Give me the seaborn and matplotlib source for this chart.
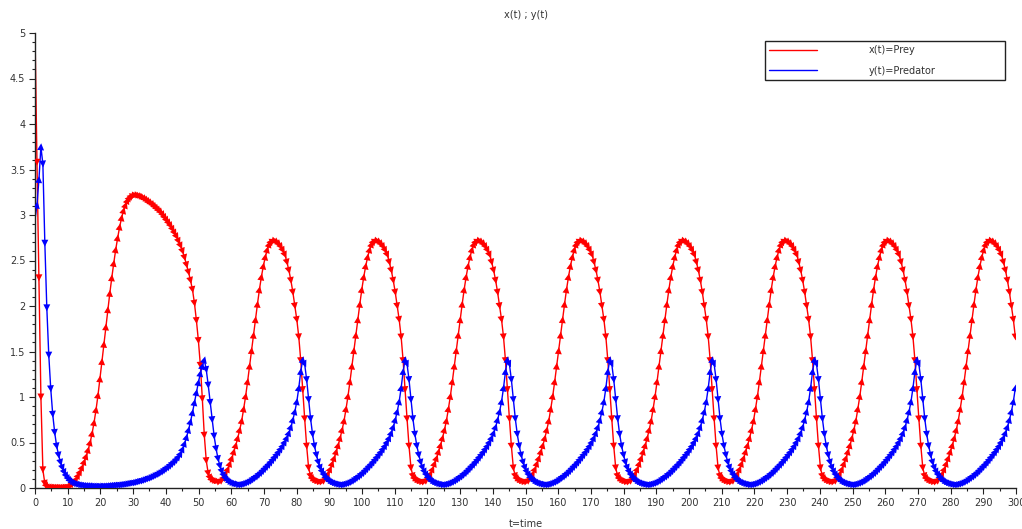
import numpy as np
import pandas as pd
import matplotlib
matplotlib.use("Agg")
import matplotlib.pyplot as plt
from matplotlib.markers import MarkerStyle
from matplotlib.transforms import Affine2D
from matplotlib.lines import Line2D
from matplotlib.ticker import MultipleLocator
import seaborn as sns

# ---------------- data ----------------
T_STEP = 0.602          # sampling step of the time grid
SERIES = ["x(t)=Prey", "y(t)=Predator"]
COLORS = ["#ff0000", "#0000ff"]

PREY = [
    # transient, t = 0 .. 56
    5.00, 3.58, 2.31, 1.00, 0.20, 0.05, 0.02, 0.012, 0.010, 0.009,
    0.008, 0.008, 0.008, 0.008, 0.009, 0.010, 0.012, 0.015, 0.03, 0.05,
    0.07, 0.10, 0.14, 0.18, 0.23, 0.29, 0.35, 0.42, 0.50, 0.60,
    0.72, 0.86, 1.02, 1.20, 1.39, 1.58, 1.77, 1.96, 2.14, 2.31,
    2.47, 2.62, 2.75, 2.87, 2.97, 3.05, 3.11, 3.16, 3.19, 3.21,
    3.22, 3.22, 3.215, 3.21, 3.20, 3.19, 3.175, 3.16, 3.145, 3.13,
    3.11, 3.09, 3.07, 3.05, 3.03, 3.00, 2.97, 2.94, 2.91, 2.88,
    2.84, 2.80, 2.76, 2.71, 2.66, 2.60, 2.53, 2.45, 2.37, 2.28,
    2.18, 2.03, 1.84, 1.62, 1.35, 0.98, 0.58, 0.30, 0.16, 0.11,
    0.09, 0.08, 0.075, 0.07,
    # cycle (peak ~73)
    0.075, 0.09, 0.12, 0.16, 0.21, 0.27, 0.33, 0.40, 0.47, 0.55, 0.64, 0.74, 0.87, 1.01, 1.17,
    1.34, 1.51, 1.68, 1.85, 2.02, 2.18, 2.32, 2.44, 2.54, 2.62, 2.68, 2.71, 2.72, 2.715, 2.70,
    2.68, 2.65, 2.61, 2.56, 2.48, 2.39, 2.28, 2.15, 2.00, 1.85, 1.66, 1.40, 1.08, 0.76, 0.46,
    # cycle (peak ~104)
    0.22, 0.13, 0.10, 0.085, 0.075, 0.07, 0.07,
    0.075, 0.09, 0.12, 0.16, 0.21, 0.27, 0.33, 0.40, 0.47, 0.55, 0.64, 0.74, 0.87, 1.01, 1.17,
    1.34, 1.51, 1.68, 1.85, 2.02, 2.18, 2.32, 2.44, 2.54, 2.62, 2.68, 2.71, 2.72, 2.715, 2.70,
    2.68, 2.65, 2.61, 2.56, 2.48, 2.39, 2.28, 2.15, 2.00, 1.85, 1.66, 1.40, 1.08, 0.76, 0.46,
    # cycle (peak ~135)
    0.22, 0.13, 0.10, 0.085, 0.075, 0.07, 0.07,
    0.075, 0.09, 0.12, 0.16, 0.21, 0.27, 0.33, 0.40, 0.47, 0.55, 0.64, 0.74, 0.87, 1.01, 1.17,
    1.34, 1.51, 1.68, 1.85, 2.02, 2.18, 2.32, 2.44, 2.54, 2.62, 2.68, 2.71, 2.72, 2.715, 2.70,
    2.68, 2.65, 2.61, 2.56, 2.48, 2.39, 2.28, 2.15, 2.00, 1.85, 1.66, 1.40, 1.08, 0.76, 0.46,
    # cycle (peak ~167)
    0.22, 0.13, 0.10, 0.085, 0.075, 0.07, 0.07,
    0.075, 0.09, 0.12, 0.16, 0.21, 0.27, 0.33, 0.40, 0.47, 0.55, 0.64, 0.74, 0.87, 1.01, 1.17,
    1.34, 1.51, 1.68, 1.85, 2.02, 2.18, 2.32, 2.44, 2.54, 2.62, 2.68, 2.71, 2.72, 2.715, 2.70,
    2.68, 2.65, 2.61, 2.56, 2.48, 2.39, 2.28, 2.15, 2.00, 1.85, 1.66, 1.40, 1.08, 0.76, 0.46,
    # cycle (peak ~198)
    0.22, 0.13, 0.10, 0.085, 0.075, 0.07, 0.07,
    0.075, 0.09, 0.12, 0.16, 0.21, 0.27, 0.33, 0.40, 0.47, 0.55, 0.64, 0.74, 0.87, 1.01, 1.17,
    1.34, 1.51, 1.68, 1.85, 2.02, 2.18, 2.32, 2.44, 2.54, 2.62, 2.68, 2.71, 2.72, 2.715, 2.70,
    2.68, 2.65, 2.61, 2.56, 2.48, 2.39, 2.28, 2.15, 2.00, 1.85, 1.66, 1.40, 1.08, 0.76, 0.46,
    # cycle (peak ~229)
    0.22, 0.13, 0.10, 0.085, 0.075, 0.07, 0.07,
    0.075, 0.09, 0.12, 0.16, 0.21, 0.27, 0.33, 0.40, 0.47, 0.55, 0.64, 0.74, 0.87, 1.01, 1.17,
    1.34, 1.51, 1.68, 1.85, 2.02, 2.18, 2.32, 2.44, 2.54, 2.62, 2.68, 2.71, 2.72, 2.715, 2.70,
    2.68, 2.65, 2.61, 2.56, 2.48, 2.39, 2.28, 2.15, 2.00, 1.85, 1.66, 1.40, 1.08, 0.76, 0.46,
    # cycle (peak ~261)
    0.22, 0.13, 0.10, 0.085, 0.075, 0.07, 0.07,
    0.075, 0.09, 0.12, 0.16, 0.21, 0.27, 0.33, 0.40, 0.47, 0.55, 0.64, 0.74, 0.87, 1.01, 1.17,
    1.34, 1.51, 1.68, 1.85, 2.02, 2.18, 2.32, 2.44, 2.54, 2.62, 2.68, 2.71, 2.72, 2.715, 2.70,
    2.68, 2.65, 2.61, 2.56, 2.48, 2.39, 2.28, 2.15, 2.00, 1.85, 1.66, 1.40, 1.08, 0.76, 0.46,
    # last cycle (peak ~292), up to t = 300
    0.22, 0.13, 0.10, 0.085, 0.075, 0.07, 0.07,
    0.075, 0.09, 0.12, 0.16, 0.21, 0.27, 0.33, 0.40, 0.47, 0.55, 0.64, 0.74, 0.87, 1.01, 1.17,
    1.34, 1.51, 1.68, 1.85, 2.02, 2.18, 2.32, 2.44, 2.54, 2.62, 2.68, 2.71, 2.72, 2.715, 2.70,
    2.68, 2.65, 2.61, 2.56, 2.48, 2.39, 2.28, 2.15, 2.00, 1.85, 1.66,
]

PREDATOR = [
    # transient, t = 0 .. 61
    2.95, 3.11, 3.39, 3.75, 3.56, 2.69, 1.98, 1.46, 1.09, 0.81,
    0.61, 0.46, 0.36, 0.28, 0.22, 0.17, 0.13, 0.10, 0.08, 0.065,
    0.054, 0.046, 0.040, 0.035, 0.031, 0.028, 0.026, 0.024, 0.023, 0.022,
    0.021, 0.021, 0.021, 0.021, 0.022, 0.022, 0.023, 0.024, 0.025, 0.027,
    0.029, 0.031, 0.033, 0.035, 0.038, 0.041, 0.044, 0.047, 0.051, 0.055,
    0.059, 0.064, 0.069, 0.075, 0.081, 0.088, 0.095, 0.103, 0.111, 0.12,
    0.13, 0.14, 0.151, 0.163, 0.176, 0.19, 0.205, 0.221, 0.238, 0.256,
    0.275, 0.296, 0.318, 0.345, 0.38, 0.43, 0.49, 0.56, 0.64, 0.73,
    0.83, 0.94, 1.05, 1.16, 1.26, 1.34, 1.41, 1.30, 1.13, 0.94,
    0.75, 0.57, 0.43, 0.32, 0.24, 0.18, 0.135, 0.105, 0.083, 0.067,
    0.056, 0.048, 0.042,
    # cycle (peak ~82)
    0.037, 0.037, 0.04, 0.046, 0.054, 0.064, 0.076, 0.09, 0.105, 0.12, 0.137, 0.155,
    0.175, 0.196, 0.218, 0.241, 0.265, 0.29, 0.316, 0.343, 0.371, 0.401, 0.433, 0.468,
    0.508, 0.553, 0.607, 0.672, 0.75, 0.84, 0.95, 1.10, 1.28, 1.41, 1.36, 1.19,
    # cycle (peak ~113)
    0.97, 0.76, 0.59, 0.46, 0.36, 0.28, 0.22, 0.175, 0.14, 0.112, 0.09, 0.073, 0.061, 0.052, 0.045, 0.04,
    0.037, 0.037, 0.04, 0.046, 0.054, 0.064, 0.076, 0.09, 0.105, 0.12, 0.137, 0.155,
    0.175, 0.196, 0.218, 0.241, 0.265, 0.29, 0.316, 0.343, 0.371, 0.401, 0.433, 0.468,
    0.508, 0.553, 0.607, 0.672, 0.75, 0.84, 0.95, 1.10, 1.28, 1.41, 1.36, 1.19,
    # cycle (peak ~145)
    0.97, 0.76, 0.59, 0.46, 0.36, 0.28, 0.22, 0.175, 0.14, 0.112, 0.09, 0.073, 0.061, 0.052, 0.045, 0.04,
    0.037, 0.037, 0.04, 0.046, 0.054, 0.064, 0.076, 0.09, 0.105, 0.12, 0.137, 0.155,
    0.175, 0.196, 0.218, 0.241, 0.265, 0.29, 0.316, 0.343, 0.371, 0.401, 0.433, 0.468,
    0.508, 0.553, 0.607, 0.672, 0.75, 0.84, 0.95, 1.10, 1.28, 1.41, 1.36, 1.19,
    # cycle (peak ~176)
    0.97, 0.76, 0.59, 0.46, 0.36, 0.28, 0.22, 0.175, 0.14, 0.112, 0.09, 0.073, 0.061, 0.052, 0.045, 0.04,
    0.037, 0.037, 0.04, 0.046, 0.054, 0.064, 0.076, 0.09, 0.105, 0.12, 0.137, 0.155,
    0.175, 0.196, 0.218, 0.241, 0.265, 0.29, 0.316, 0.343, 0.371, 0.401, 0.433, 0.468,
    0.508, 0.553, 0.607, 0.672, 0.75, 0.84, 0.95, 1.10, 1.28, 1.41, 1.36, 1.19,
    # cycle (peak ~207)
    0.97, 0.76, 0.59, 0.46, 0.36, 0.28, 0.22, 0.175, 0.14, 0.112, 0.09, 0.073, 0.061, 0.052, 0.045, 0.04,
    0.037, 0.037, 0.04, 0.046, 0.054, 0.064, 0.076, 0.09, 0.105, 0.12, 0.137, 0.155,
    0.175, 0.196, 0.218, 0.241, 0.265, 0.29, 0.316, 0.343, 0.371, 0.401, 0.433, 0.468,
    0.508, 0.553, 0.607, 0.672, 0.75, 0.84, 0.95, 1.10, 1.28, 1.41, 1.36, 1.19,
    # cycle (peak ~239)
    0.97, 0.76, 0.59, 0.46, 0.36, 0.28, 0.22, 0.175, 0.14, 0.112, 0.09, 0.073, 0.061, 0.052, 0.045, 0.04,
    0.037, 0.037, 0.04, 0.046, 0.054, 0.064, 0.076, 0.09, 0.105, 0.12, 0.137, 0.155,
    0.175, 0.196, 0.218, 0.241, 0.265, 0.29, 0.316, 0.343, 0.371, 0.401, 0.433, 0.468,
    0.508, 0.553, 0.607, 0.672, 0.75, 0.84, 0.95, 1.10, 1.28, 1.41, 1.36, 1.19,
    # cycle (peak ~270)
    0.97, 0.76, 0.59, 0.46, 0.36, 0.28, 0.22, 0.175, 0.14, 0.112, 0.09, 0.073, 0.061, 0.052, 0.045, 0.04,
    0.037, 0.037, 0.04, 0.046, 0.054, 0.064, 0.076, 0.09, 0.105, 0.12, 0.137, 0.155,
    0.175, 0.196, 0.218, 0.241, 0.265, 0.29, 0.316, 0.343, 0.371, 0.401, 0.433, 0.468,
    0.508, 0.553, 0.607, 0.672, 0.75, 0.84, 0.95, 1.10, 1.28, 1.41, 1.36, 1.19,
    # last part, up to t = 300
    0.97, 0.76, 0.59, 0.46, 0.36, 0.28, 0.22, 0.175, 0.14, 0.112, 0.09, 0.073, 0.061, 0.052, 0.045, 0.04,
    0.037, 0.037, 0.04, 0.046, 0.054, 0.064, 0.076, 0.09, 0.105, 0.12, 0.137, 0.155,
    0.175, 0.196, 0.218, 0.241, 0.265, 0.29, 0.316, 0.343, 0.371, 0.401, 0.433, 0.468,
    0.508, 0.553, 0.607, 0.672, 0.75, 0.84, 0.95, 1.10,
]

X_TICKS = list(range(0, 301, 10))
X_TICK_LABELS = [str(v) for v in X_TICKS]
Y_TICKS = [0, 0.5, 1, 1.5, 2, 2.5, 3, 3.5, 4, 4.5, 5]
Y_TICK_LABELS = ["0", "0.5", "1", "1.5", "2", "2.5", "3", "3.5", "4", "4.5", "5"]
TITLE = "x(t) ; y(t)"
XLABEL = "t=time"

# ---------------- figure ----------------
sns.set_style("ticks")
plt.rcParams["font.family"] = ["DejaVu Sans"]
W, H = 1022, 529
fig = plt.figure(figsize=(W / 100, H / 100), dpi=100)
ax = fig.add_axes([35 / W, 1 - 488 / H, 981 / W, 455 / H])
ax.set_xlim(0, 300)
ax.set_ylim(0, 5)

t = np.arange(len(PREY)) * T_STEP
series_values = [np.array(PREY, float), np.array(PREDATOR, float)]

for name, vals, col in zip(SERIES, series_values, COLORS):
    df = pd.DataFrame({"t": t[: len(vals)], "value": vals})
    sns.lineplot(data=df, x="t", y="value", color=col, linewidth=1.0,
                 estimator=None, sort=False, ax=ax, legend=False)
    # arrow-head markers oriented along each segment (screen space)
    pts = ax.transData.transform(np.column_stack([df["t"], df["value"]]))
    d = np.diff(pts, axis=0)
    ang = np.degrees(np.arctan2(d[:, 1], d[:, 0])) - 90.0
    ang_bin = np.round(ang / 5.0) * 5.0
    sub = df.iloc[1:].reset_index(drop=True)
    for a in np.unique(ang_bin):
        m = ang_bin == a
        mk = MarkerStyle("^", transform=Affine2D().rotate_deg(a))
        sns.scatterplot(data=sub[m], x="t", y="value", marker=mk, s=25,
                        color=col, linewidth=0, edgecolor="none",
                        ax=ax, legend=False, zorder=3)

ax.set_xlim(0, 300)
ax.set_ylim(0, 5)
ax.set_xticks(X_TICKS)
ax.set_xticklabels(X_TICK_LABELS)
ax.set_yticks(Y_TICKS)
ax.set_yticklabels(Y_TICK_LABELS)
ax.xaxis.set_minor_locator(MultipleLocator(5))
ax.yaxis.set_minor_locator(MultipleLocator(0.1))
ax.tick_params(which="major", length=4, width=0.8, direction="out",
               labelsize=7, colors="#222222", labelcolor="#333333", pad=3)
ax.tick_params(which="minor", length=2.5, width=0.8, direction="out",
               colors="#222222")
sns.despine(ax=ax)
for s in ("left", "bottom"):
    ax.spines[s].set_color("#222222")
    ax.spines[s].set_linewidth(1.0)

ax.set_title(TITLE, fontsize=7, color="#333333", pad=11)
ax.set_xlabel(XLABEL, fontsize=7, color="#333333", labelpad=8)
ax.set_ylabel("")

handles = [Line2D([], [], color=c, linewidth=1.0) for c in COLORS]
leg = ax.legend(handles, SERIES, loc="upper left",
                bbox_to_anchor=(730 / 981, 403 / 455, 240 / 981, 44 / 455),
                mode="expand", borderaxespad=0, fontsize=7, frameon=True,
                fancybox=False, edgecolor="#222222", framealpha=1,
                handlelength=4.9, handletextpad=5.3, borderpad=0.45,
                labelspacing=1.05)
leg.get_frame().set_linewidth(1.0)
for txt in leg.get_texts():
    txt.set_color("#333333")

fig.savefig("out.png", dpi=100)
